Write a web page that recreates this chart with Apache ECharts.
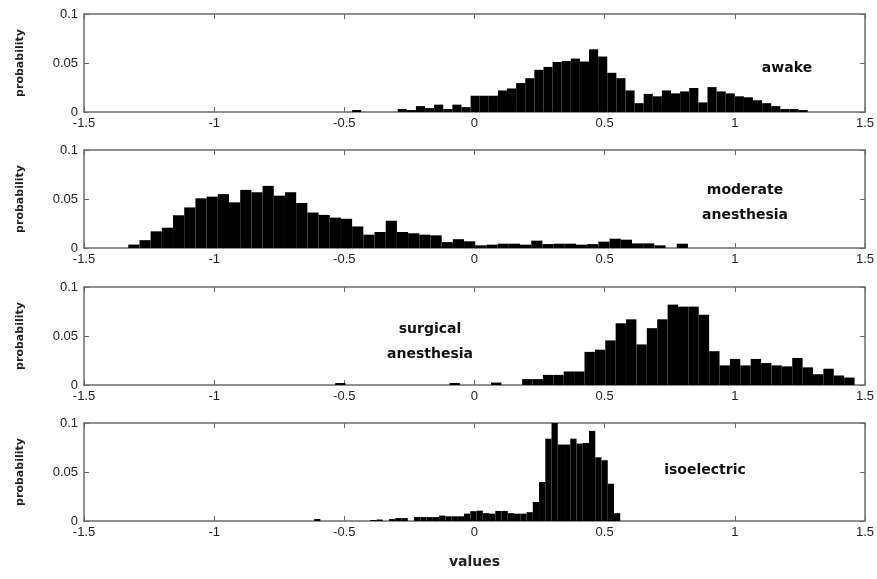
<!DOCTYPE html>
<html>
<head>
<meta charset="utf-8">
<title>probability histograms</title>
<script src="https://cdn.jsdelivr.net/npm/echarts@6/dist/echarts.min.js"></script>
<style>
  html, body { margin: 0; padding: 0; background: #fff; }
  #chart { width: 877px; height: 579px; }
</style>
</head>
<body>
<div id="chart"></div>
<script>
// each panel is a 50-bin histogram: bins start at binStart and are binWidth wide
var panelLabels = ['awake', 'moderate\nanesthesia', 'surgical\nanesthesia', 'isoelectric'];
var binStart = [-0.47, -1.33, -0.535, -0.64];
var binWidth = [0.035, 0.043, 0.0399, 0.024];

var awake = [
  0.002, 0, 0, 0, 0, 0.003, 0.002, 0.006, 0.004, 0.0075,
  0.003, 0.0075, 0.005, 0.0166, 0.0166, 0.0166, 0.022, 0.024, 0.0295, 0.0345,
  0.043, 0.046, 0.051, 0.052, 0.0545, 0.0515, 0.064, 0.0566, 0.040, 0.0345,
  0.022, 0.009, 0.0185, 0.016, 0.022, 0.019, 0.021, 0.0245, 0.0098, 0.0254,
  0.021, 0.019, 0.016, 0.015, 0.012, 0.009, 0.006, 0.003, 0.003, 0.002
];
var moderate = [
  0.0035, 0.008, 0.017, 0.0207, 0.0334, 0.0414, 0.0507, 0.0524, 0.055, 0.0466,
  0.0593, 0.0569, 0.0634, 0.0534, 0.0569, 0.0459, 0.0362, 0.0338, 0.031, 0.0298,
  0.022, 0.0136, 0.0163, 0.0278, 0.0163, 0.015, 0.0136, 0.0129, 0.006, 0.009,
  0.0068, 0.0027, 0.0034, 0.0044, 0.0044, 0.0034, 0.0075, 0.004, 0.0044, 0.0044,
  0.0034, 0.004, 0.0065, 0.0095, 0.0085, 0.0047, 0.0047, 0.0027, 0, 0.0044
];
var surgical = [
  0.002, 0, 0, 0, 0, 0, 0, 0, 0, 0,
  0, 0.002, 0, 0, 0, 0.0025, 0, 0, 0.006, 0.006,
  0.0103, 0.0103, 0.0138, 0.0138, 0.0338, 0.036, 0.0455, 0.063, 0.067, 0.0414,
  0.058, 0.067, 0.082, 0.080, 0.080, 0.0717, 0.0345, 0.02, 0.0266, 0.02,
  0.0266, 0.0224, 0.02, 0.019, 0.0276, 0.018, 0.011, 0.0166, 0.0097, 0.0076
];
var isoelectric = [
  0, 0.002, 0, 0, 0, 0, 0, 0, 0, 0,
  0.001, 0.0015, 0, 0.002, 0.003, 0.003, 0, 0.004, 0.004, 0.004,
  0.004, 0.0055, 0.0048, 0.0048, 0.0048, 0.0075, 0.010, 0.0105, 0.008, 0.0075,
  0.0102, 0.0102, 0.008, 0.0075, 0.0075, 0.009, 0.0194, 0.0398, 0.084, 0.10,
  0.078, 0.078, 0.084, 0.079, 0.0796, 0.092, 0.065, 0.062, 0.038, 0.008
];
var panels = [awake, moderate, surgical, isoelectric];

var xTicks = { min: -1.5, max: 1.5, interval: 0.5 };
var yTicks = { min: 0, max: 0.1, interval: 0.05 };

var font = 'Liberation Sans, Arial, sans-serif';
var gridTops = [14, 150, 287, 423];
var gridH = 98;

var grids = [], xAxes = [], yAxes = [], series = [], graphics = [];

function histRect(params, api) {
  var a = api.coord([api.value(0), api.value(2)]);
  var b = api.coord([api.value(1), 0]);
  return {
    type: 'rect',
    shape: { x: a[0], y: a[1], width: b[0] - a[0], height: b[1] - a[1] },
    style: { fill: '#000' }
  };
}

panels.forEach(function (vals, i) {
  grids.push({ left: 84, right: 11, top: gridTops[i], height: gridH });
  var axisLine = { show: true, onZero: false, lineStyle: { color: '#6b6b6b', width: 1.5 } };
  var tick = { show: true, inside: true, length: 5, lineStyle: { color: '#6b6b6b' } };
  // bottom / left axes with labels
  xAxes.push({
    type: 'value', gridIndex: i, min: xTicks.min, max: xTicks.max, interval: xTicks.interval,
    axisLine: axisLine, axisTick: tick, splitLine: { show: false },
    axisLabel: { color: '#222', fontFamily: font, fontSize: 13, margin: 5 },
    name: i === 3 ? 'values' : '', nameLocation: 'middle', nameGap: 34,
    nameTextStyle: { color: '#222', fontFamily: 'DejaVu Sans, sans-serif', fontWeight: 'bold', fontSize: 14 }
  });
  yAxes.push({
    type: 'value', gridIndex: i, min: yTicks.min, max: yTicks.max, interval: yTicks.interval,
    axisLine: axisLine, axisTick: tick, splitLine: { show: false },
    axisLabel: { color: '#222', fontFamily: font, fontSize: 13, margin: 6 },
    name: 'probability', nameLocation: 'middle', nameGap: 58, nameRotate: 90,
    nameTextStyle: { color: '#222', fontFamily: 'DejaVu Sans, sans-serif', fontWeight: 'bold', fontSize: 11 }
  });
  // top / right frame with inside ticks
  xAxes.push({
    type: 'value', gridIndex: i, position: 'top', min: xTicks.min, max: xTicks.max, interval: xTicks.interval,
    axisLine: axisLine, axisTick: tick, splitLine: { show: false }, axisLabel: { show: false }
  });
  yAxes.push({
    type: 'value', gridIndex: i, position: 'right', min: yTicks.min, max: yTicks.max, interval: yTicks.interval,
    axisLine: axisLine, axisTick: tick, splitLine: { show: false }, axisLabel: { show: false }
  });

  var data = vals.map(function (p, k) {
    var x0 = binStart[i] + k * binWidth[i];
    return [x0, x0 + binWidth[i], p];
  });
  series.push({
    type: 'custom', xAxisIndex: i * 2, yAxisIndex: i * 2,
    renderItem: histRect, encode: { x: [0, 1], y: 2 },
    data: data, silent: true, z: 1
  });
});

var labelPos = [[787, 68], [745, 203], [430, 342], [705, 470]];
panelLabels.forEach(function (t, i) {
  graphics.push({
    type: 'text', x: labelPos[i][0], y: labelPos[i][1],
    style: {
      text: t, fill: '#111', fontFamily: 'DejaVu Sans, sans-serif', fontWeight: 'bold',
      fontSize: 14, lineHeight: 25, align: 'center', verticalAlign: 'middle'
    }
  });
});

var chart = echarts.init(document.getElementById('chart'));
chart.setOption({
  animation: false,
  backgroundColor: '#fff',
  grid: grids,
  xAxis: xAxes,
  yAxis: yAxes,
  series: series,
  graphic: graphics
});
window.onresize = chart.resize;
</script>
</body>
</html>
